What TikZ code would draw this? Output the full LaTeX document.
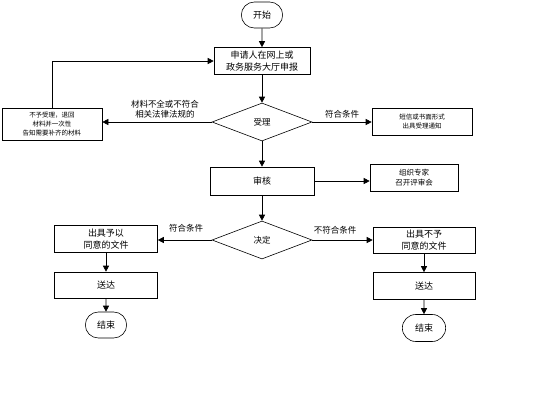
\documentclass[tikz,border=0pt]{standalone}
\usepackage{fontspec}
\newfontfamily\cjk{Noto Sans CJK SC}
\usetikzlibrary{arrows.meta,shapes.geometric,shapes.misc}

\tikzset{
  flow/.style={-{Triangle[width=6pt,length=6pt]}},
  box/.style={draw,rectangle,align=center,inner sep=1pt,font=\cjk\fontsize{9}{12}\selectfont},
  smallbox/.style={box,font=\cjk\fontsize{6.5}{9}\selectfont},
  term/.style={draw,rounded rectangle,minimum width=48pt,minimum height=26pt,font=\cjk\fontsize{9}{11}\selectfont},
  choice/.style={draw,diamond,minimum width=100pt,minimum height=38pt,inner sep=0pt,font=\cjk\fontsize{8.5}{10}\selectfont},
  lab/.style={align=center,font=\cjk\fontsize{8.5}{10}\selectfont},
}

\begin{document}
\begin{tikzpicture}[x=1pt,y=-1pt,line width=0.6pt]
    \useasboundingbox (0,0) rectangle (550,400);
    % main column
    \node[term] (start) at (262,15) {开始};
    \node[box,minimum width=96pt,minimum height=27pt] (apply) at (262,61) {申请人在网上或\\政务服务大厅申报};
    \node[choice] (accept) at (262,122) {受理};
    \node[box,minimum width=104pt,minimum height=28pt] (review) at (262,181) {审核};
    \node[choice] (decide) at (262,240) {决定};
    \draw[flow] (start) -- (apply);
    \draw[flow] (apply) -- (accept);
    \draw[flow] (accept) -- (review);
    \draw[flow] (review) -- (decide);
    % reject and notice
    \node[smallbox,minimum width=100pt,minimum height=32pt] (reject) at (52,124) {不予受理，退回\\材料并一次性\\告知需要补齐的材料};
    \node[smallbox,minimum width=100pt,minimum height=27pt] (notice) at (422,122) {短信或书面形式\\出具受理通知};
    \node[smallbox,font=\cjk\fontsize{7.5}{10}\selectfont,minimum width=88pt,minimum height=27pt] (expert) at (414,178) {组织专家\\召开评审会};
    \draw[flow] (accept.west) -- (accept.west -| reject.east);
    \node[lab] (lackmat) at (165,109) {材料不全或不符合\\相关法律法规的};
    \draw[flow] (accept.east) -- (accept.east -| notice.west);
    \node[lab] (okmat) at (342,114) {符合条件};
    \draw[flow] (reject.north) |- (apply.west);
    \draw[flow] (review.east) -- (review.east -| expert.west);
    % left branch
    \node[box,minimum width=103pt,minimum height=27pt] (agree) at (106,239) {出具予以\\同意的文件};
    \node[box,minimum width=103pt,minimum height=26pt] (sendl) at (106,285) {送达};
    \node[term] (endl) at (106,325) {结束};
    \draw[flow] (decide.west) -- (decide.west -| agree.east);
    \node[lab] (yes) at (186,228) {符合条件};
    \draw[flow] (agree) -- (sendl);
    \draw[flow] (sendl) -- (endl);
    % right branch
    \node[box,minimum width=102pt,minimum height=26pt] (refuse) at (424,240) {出具不予\\同意的文件};
    \node[box,minimum width=102pt,minimum height=27pt] (sendr) at (424,286) {送达};
    \node[term,minimum width=50pt,minimum height=27pt] (endr) at (424,328) {结束};
    \draw[flow] (decide.east) -- (decide.east -| refuse.west);
    \node[lab] (no) at (335,230) {不符合条件};
    \draw[flow] (refuse) -- (sendr);
    \draw[flow] (sendr) -- (endr);
\end{tikzpicture}
\end{document}
